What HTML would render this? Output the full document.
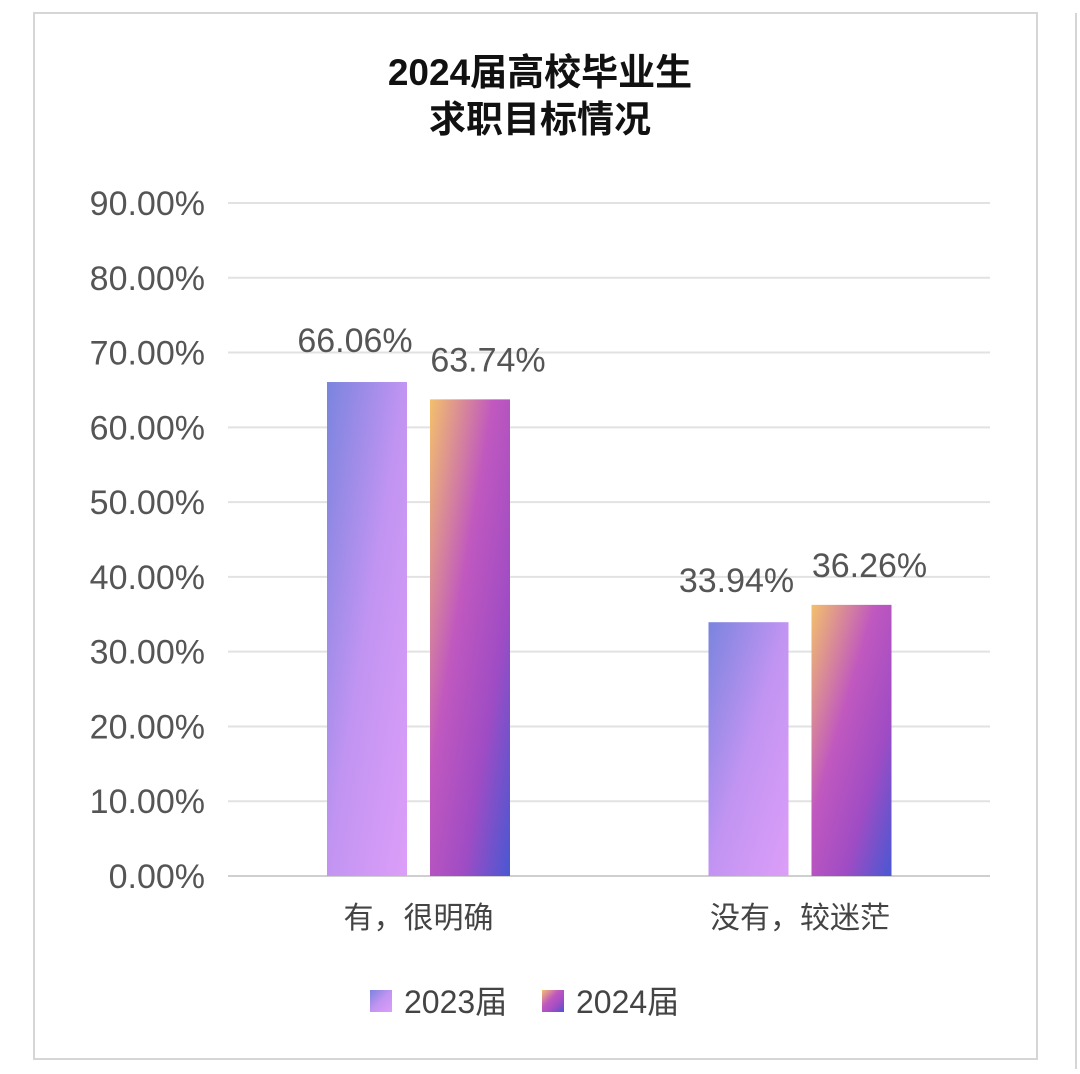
<!DOCTYPE html>
<html><head><meta charset="utf-8"><style>
html,body{margin:0;padding:0;background:#fff;}
svg text{font-family:"Liberation Sans","Noto Sans CJK SC",sans-serif;}
</style></head><body>
<svg id="chart" width="1080" height="1069" viewBox="0 0 1080 1069" xmlns="http://www.w3.org/2000/svg">
<defs>
<linearGradient id="g23" x1="0" y1="0" x2="1" y2="1">
<stop offset="0" stop-color="#7a84de"/><stop offset="0.5" stop-color="#c294f2"/><stop offset="1" stop-color="#dc9ef8"/>
</linearGradient>
<linearGradient id="g24" x1="0" y1="0" x2="1" y2="1">
<stop offset="0" stop-color="#f3c06c"/><stop offset="0.4" stop-color="#c058bf"/><stop offset="0.7" stop-color="#a04cc4"/><stop offset="1" stop-color="#4858d2"/>
</linearGradient>
</defs>
<rect x="34" y="13" width="1003" height="1046" fill="#fff" stroke="#d6d6d6" stroke-width="2"/>
<line x1="1076" y1="13" x2="1076" y2="1069" stroke="#d6d6d6" stroke-width="2"/>
<text x="540" y="85" text-anchor="middle" font-size="37" font-weight="bold" fill="#111">2024届高校毕业生</text>
<text x="540" y="132" text-anchor="middle" font-size="37" font-weight="bold" fill="#111">求职目标情况</text>
<g id="grid"></g><g id="bars"></g><g id="labels"></g>
<rect x="370" y="990" width="22" height="22" fill="url(#g23)"/>
<text x="404" y="1013" font-size="32" fill="#444">2023届</text>
<rect x="542" y="990" width="22" height="22" fill="url(#g24)"/>
<text x="576" y="1013" font-size="32" fill="#444">2024届</text>
</svg>
<script>
const categories = ["有，很明确", "没有，较迷茫"];
const series2023 = [66.06, 33.94];
const series2024 = [63.74, 36.26];
const yTicks = [0, 10, 20, 30, 40, 50, 60, 70, 80, 90];

const NS = "http://www.w3.org/2000/svg";
const y0 = 876, yTop = 203, vMax = 90;
function yScale(v){ return y0 - (y0 - yTop) * v / vMax; }
const groupCenters = [418.5, 800];
function xGroup(i){ return groupCenters[0] + i * (groupCenters[1] - groupCenters[0]); }
const barW = 80, gap = 23;
function mk(tag, attrs){ const e = document.createElementNS(NS, tag); for (const k in attrs) e.setAttribute(k, attrs[k]); return e; }
const grid = document.getElementById('grid'), bars = document.getElementById('bars'), labels = document.getElementById('labels');
yTicks.forEach(t => {
  const y = yScale(t);
  const l = mk('line', {x1: 228, x2: 990, y1: y, y2: y, stroke: t === 0 ? '#cfcfcf' : '#e2e2e2', 'stroke-width': 2});
  
  
  grid.appendChild(l);
  const tx = mk('text', {x: 205, y: y + 12, 'text-anchor': 'end', 'font-size': 34, fill: '#555'});
  tx.textContent = t.toFixed(2) + '%';
  
  
  labels.appendChild(tx);
});
categories.forEach((c, i) => {
  const cx = xGroup(i);
  [[series2023, 'g23', -1], [series2024, 'g24', 1]].forEach(([s, g, side]) => {
    const v = s[i];
    const x = side < 0 ? cx - gap/2 - barW : cx + gap/2;
    const r = mk('rect', {x: x, y: yScale(v), width: barW, height: y0 - yScale(v), fill: 'url(#' + g + ')'});
    
    
    bars.appendChild(r);
    const t = mk('text', {x: x + barW/2 + (side < 0 ? -12 : 18), y: yScale(v) + (side < 0 ? -30 : -28), 'text-anchor': 'middle', 'font-size': 34, fill: '#555'});
    t.textContent = v.toFixed(2) + '%';
    
    
    labels.appendChild(t);
  });
  const ct = mk('text', {x: cx, y: 928, 'text-anchor': 'middle', 'font-size': 30, fill: '#444'});
  ct.textContent = c;
  
  
  labels.appendChild(ct);
});
</script>
</body></html>
